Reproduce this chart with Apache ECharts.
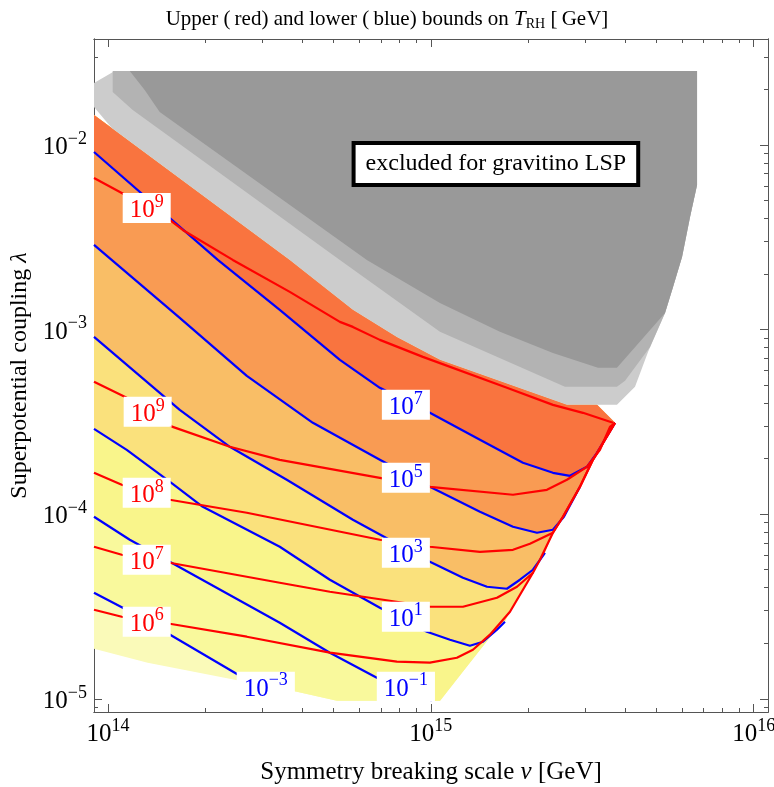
<!DOCTYPE html>
<html>
<head>
<meta charset="utf-8">
<script src="https://cdn.jsdelivr.net/npm/echarts@6.0.0/dist/echarts.min.js"></script>
<style>
  html, body { margin: 0; padding: 0; background: #ffffff; }
  #chart { width: 774px; height: 787px; }
</style>
</head>
<body>
<div id="chart"></div>
<script>
// ---------------------------------------------------------------
// Reheating temperature bounds in the (v, lambda) plane
// ---------------------------------------------------------------
const FONT = '"Liberation Serif", "Times New Roman", Times, serif';

// axis ranges: symmetry breaking scale v [GeV], coupling lambda
const vRange = [9.05e13, 1.107e16];
const lambdaRange = [8.48e-6, 0.0375];

const vMajorTicks = [1e14, 1e15, 1e16];
const vMinorTicks = [2e14, 3e14, 4e14, 5e14, 6e14, 7e14, 8e14, 9e14,
                     2e15, 3e15, 4e15, 5e15, 6e15, 7e15, 8e15, 9e15];
const lambdaMajorTicks = [1e-5, 1e-4, 1e-3, 1e-2];
const lambdaMinorTicks = [9e-6,
                          2e-5, 3e-5, 4e-5, 5e-5, 6e-5, 7e-5, 8e-5, 9e-5,
                          2e-4, 3e-4, 4e-4, 5e-4, 6e-4, 7e-4, 8e-4, 9e-4,
                          2e-3, 3e-3, 4e-3, 5e-3, 6e-3, 7e-3, 8e-3, 9e-3,
                          2e-2, 3e-2];

// allowed region: upper edge (left -> tip), right edge (tip -> bottom), lower edge (right -> left)
const regionTop = [[9.05e13, 1.454e-2], [3.656e14, 2.384e-3], [5.733e14, 1.279e-3], [7.846e14, 9.129e-4],
                   [1.067e15, 6.853e-4], [2.639e15, 3.910e-4], [3.269e15, 3.910e-4], [3.717e15, 3.125e-4]];
const regionRight = [[3.717e15, 3.125e-4], [3.177e15, 1.970e-4], [2.896e15, 1.407e-4], [2.565e15, 9.681e-5],
                     [2.388e15, 7.930e-5], [2.177e15, 5.661e-5], [1.782e15, 3.152e-5], [1.502e15, 2.089e-5],
                     [1.248e15, 1.384e-5], [1.067e15, 9.765e-6]];
const regionBottom = [[1.067e15, 9.765e-6], [5.115e14, 9.765e-6], [3.845e14, 1.093e-5], [2.470e14, 1.269e-5],
                      [1.327e14, 1.569e-5], [9.05e13, 1.867e-5]];

// lower bounds on T_RH (blue contours)
const blueT7 = [[9.05e13, 9.165e-3], [2.188e14, 2.384e-3], [3.404e14, 1.279e-3], [5.226e14, 6.853e-4],
                [6.950e14, 4.835e-4], [9.929e14, 3.540e-4], [1.419e15, 2.528e-4], [1.928e15, 1.898e-4],
                [2.388e15, 1.675e-4], [2.696e15, 1.614e-4], [3.044e15, 1.806e-4], [3.269e15, 2.150e-4],
                [3.717e15, 3.125e-4]];
const blueT5 = [[9.05e13, 2.874e-3], [1.668e14, 1.157e-3], [2.691e14, 5.615e-4], [4.310e14, 3.125e-4],
                [6.950e14, 1.970e-4], [9.929e14, 1.407e-4], [1.419e15, 1.030e-4], [1.796e15, 8.547e-5],
                [2.131e15, 7.930e-5], [2.388e15, 8.233e-5], [2.583e15, 9.681e-5], [2.896e15, 1.407e-4]];
const blueT3 = [[9.05e13, 9.129e-4], [1.668e14, 3.674e-4], [2.384e14, 2.317e-4], [3.578e14, 1.536e-4],
                [5.733e14, 9.326e-5], [9.929e14, 5.522e-5], [1.257e15, 4.525e-5], [1.492e15, 4.045e-5],
                [1.720e15, 3.946e-5], [1.888e15, 4.414e-5], [2.071e15, 5.000e-5], [2.256e15, 6.179e-5]];
const blueT1 = [[9.05e13, 2.899e-4], [1.143e14, 2.232e-4], [1.586e14, 1.461e-4], [1.966e14, 1.096e-4],
                [3.404e14, 6.659e-5], [4.866e14, 4.414e-5], [6.950e14, 3.113e-5], [9.719e14, 2.308e-5],
                [1.146e15, 2.089e-5], [1.321e15, 1.938e-5], [1.450e15, 2.037e-5], [1.602e15, 2.366e-5],
                [1.696e15, 2.615e-5]];
const blueTm1 = [[9.05e13, 9.681e-5], [1.168e14, 7.267e-5], [1.553e14, 5.522e-5], [3.404e14, 2.582e-5],
                 [4.866e14, 1.777e-5], [6.801e14, 1.301e-5], [1.007e15, 9.765e-6]];
const blueTm3 = [[9.05e13, 3.753e-5], [1.111e14, 3.113e-5], [1.520e14, 2.280e-5], [2.470e14, 1.384e-5],
                 [2.788e14, 1.222e-5]];
const blueLevels = [7, 5, 3, 1, -1, -3];
const blueLabelAt = [[8.367e14, 3.910e-4], [8.367e14, 1.574e-4], [8.367e14, 6.179e-5],
                     [8.367e14, 2.782e-5], [8.367e14, 1.163e-5], [3.081e14, 1.163e-5]];

// upper bounds on T_RH (red contours)
const redA = [[9.05e13, 6.627e-3], [1.103e14, 5.497e-3], [1.553e14, 3.925e-3], [1.704e14, 3.465e-3],
              [2.435e14, 2.384e-3], [3.656e14, 1.600e-3], [5.226e14, 1.101e-3], [5.733e14, 1.034e-3],
              [6.950e14, 8.794e-4], [9.445e14, 7.114e-4], [1.720e15, 4.835e-4], [2.388e15, 3.910e-4],
              [2.958e15, 3.540e-4], [3.664e15, 3.125e-4]];
const redB = [[9.05e13, 5.211e-4], [1.143e14, 4.268e-4], [1.586e14, 2.972e-4], [2.384e14, 2.317e-4],
              [3.404e14, 1.970e-4], [6.950e14, 1.574e-4], [9.929e14, 1.407e-4], [1.796e15, 1.274e-4],
              [2.288e15, 1.355e-4], [2.639e15, 1.536e-4], [3.044e15, 1.806e-4], [3.340e15, 2.232e-4],
              [3.587e15, 2.972e-4], [3.717e15, 3.125e-4]];
const red8 = [[9.05e13, 1.675e-4], [1.103e14, 1.443e-4], [1.553e14, 1.197e-4], [2.691e14, 1.018e-4],
              [6.950e14, 7.267e-5], [9.929e14, 6.659e-5], [1.419e15, 6.256e-5], [1.796e15, 6.414e-5],
              [2.027e15, 6.913e-5], [2.388e15, 7.930e-5], [2.565e15, 9.681e-5], [2.896e15, 1.407e-4],
              [3.177e15, 1.970e-4], [3.717e15, 3.125e-4]];
const red7 = [[9.05e13, 6.659e-5], [1.103e14, 6.027e-5], [1.553e14, 5.454e-5], [3.404e14, 4.252e-5],
              [4.866e14, 3.800e-5], [9.929e14, 3.152e-5], [1.257e15, 3.152e-5], [1.602e15, 3.527e-5],
              [1.848e15, 4.045e-5], [2.071e15, 4.817e-5], [2.177e15, 5.661e-5], [2.388e15, 7.930e-5],
              [2.565e15, 9.681e-5], [2.896e15, 1.407e-4], [3.177e15, 1.970e-4], [3.717e15, 3.125e-4]];
const red6 = [[9.05e13, 3.037e-5], [1.103e14, 2.782e-5], [1.553e14, 2.550e-5], [2.691e14, 2.169e-5],
              [4.866e14, 1.777e-5], [7.846e14, 1.588e-5], [9.929e14, 1.569e-5], [1.204e15, 1.669e-5],
              [1.350e15, 1.844e-5], [1.524e15, 2.224e-5], [1.758e15, 2.962e-5], [2.071e15, 4.817e-5]];
const redLevels = [9, 9, 8, 7, 6];
const redLabelAt = [[1.318e14, 4.559e-3], [1.327e14, 3.585e-4], [1.318e14, 1.305e-4],
                    [1.318e14, 5.661e-5], [1.318e14, 2.615e-5]];

// excluded region for a gravitino LSP (three shades)
const grayLight = [[9.05e13, 2.166e-2], [1.049e14, 2.515e-2], [6.674e15, 2.515e-2], [6.674e15, 6.073e-3],
                   [6.348e15, 4.074e-3], [5.996e15, 2.475e-3], [5.623e15, 1.703e-3], [5.311e15, 1.231e-3],
                   [4.705e15, 7.571e-4], [4.288e15, 4.895e-4], [3.770e15, 3.910e-4], [2.639e15, 3.910e-4],
                   [1.067e15, 6.853e-4], [7.846e14, 9.129e-4], [5.733e14, 1.279e-3], [3.656e14, 2.384e-3],
                   [1.027e14, 1.236e-2], [9.05e13, 1.606e-2]];
const grayMid = [[1.034e14, 2.515e-2], [6.674e15, 2.515e-2], [6.674e15, 6.073e-3], [6.348e15, 4.074e-3],
                 [5.996e15, 2.475e-3], [5.623e15, 1.703e-3], [5.311e15, 1.231e-3], [4.772e15, 8.058e-4],
                 [3.994e15, 5.276e-4], [3.770e15, 4.895e-4], [2.602e15, 4.895e-4], [1.067e15, 9.718e-4],
                 [5.226e14, 2.384e-3], [1.193e14, 1.547e-2], [1.034e14, 1.936e-2]];
const grayDark = [[1.168e14, 2.515e-2], [6.674e15, 2.515e-2], [6.674e15, 6.073e-3], [6.348e15, 4.074e-3],
                  [5.996e15, 2.475e-3], [5.623e15, 1.703e-3], [5.311e15, 1.231e-3], [3.770e15, 6.203e-4],
                  [3.292e15, 6.203e-4], [2.388e15, 7.477e-4], [1.636e15, 9.718e-4], [1.067e15, 1.395e-3],
                  [6.335e14, 2.384e-3], [1.446e14, 1.509e-2], [1.299e14, 1.985e-2]];
const excludedText = 'excluded for gravitino LSP';
const excludedAt = [1.590e15, 7.887e-3];

// ---------------------------------------------------------------
const bandColors = ['#FAFAB9', '#F9F99C', '#F9F58B', '#FAE17C', '#F9BE66', '#F99B53', '#F9743F'];
const grayColors = ['#CCCCCC', '#B3B3B3', '#999999'];
const BLUE = '#0000FF', RED = '#FF0000', FRAME = '#555555';

const blueLines = [blueTm3, blueTm1, blueT1, blueT3, blueT5, blueT7]; // bottom to top
const blueByLevel = [blueT7, blueT5, blueT3, blueT1, blueTm1, blueTm3];
const redLines = [redA, redB, red8, red7, red6];

// boundary walked from the lower-left corner, along the bottom, up to the tip
const hull = regionBottom.slice().reverse().concat(regionRight.slice().reverse().slice(1));
const topBack = regionTop.slice().reverse();

const lg = p => [Math.log10(p[0]), Math.log10(p[1])];
function segDist(p, a, b) {
  const dx = b[0] - a[0], dy = b[1] - a[1];
  const t = Math.max(0, Math.min(1, ((p[0] - a[0]) * dx + (p[1] - a[1]) * dy) / (dx * dx + dy * dy || 1)));
  const x = a[0] + t * dx - p[0], y = a[1] + t * dy - p[1];
  return Math.hypot(x * 3, y);
}
// boundary vertices following the point where a contour leaves the region
function hullTail(end) {
  let best = 0, bd = Infinity;
  const e = lg(end);
  for (let i = 0; i < hull.length - 1; i++) {
    const d = segDist(e, lg(hull[i]), lg(hull[i + 1]));
    if (d < bd) { bd = d; best = i; }
  }
  return hull.slice(best + 1);
}

const bands = [{ pts: hull.concat(topBack), color: bandColors[0] }];
blueLines.forEach((line, i) => {
  bands.push({ pts: line.concat(hullTail(line[line.length - 1]), topBack), color: bandColors[i + 1] });
});
const grays = [grayLight, grayMid, grayDark].map((pts, i) => ({ pts, color: grayColors[i] }));

function polygonSeries(polys, z) {
  return {
    type: 'custom', z, silent: true, clip: true, animation: false,
    data: polys.map((p, i) => [p.pts[0][0], p.pts[0][1], i]),
    encode: { x: 0, y: 1 },
    renderItem(params, api) {
      const p = polys[api.value(2)];
      return {
        type: 'polygon',
        shape: { points: p.pts.map(q => api.coord(q)) },
        style: { fill: p.color }
      };
    }
  };
}

function lineSeries(pts, color, z) {
  return {
    type: 'line', data: pts, z, silent: true, animation: false,
    showSymbol: false, symbol: 'none', smooth: false,
    lineStyle: { color, width: 2.2, join: 'round' }
  };
}

const supText = e => (e < 0 ? '\u2212' + (-e) : String(e));
const powRich = (color, size, supSize) => ({
  b: { fontFamily: FONT, fontSize: size, color, lineHeight: size + 5, verticalAlign: 'bottom' },
  s: { fontFamily: FONT, fontSize: supSize, color, lineHeight: supSize - 3, verticalAlign: 'top' }
});

function levelLabels(points, levels, color) {
  return {
    type: 'scatter', z: 8, silent: true, animation: false,
    symbolSize: 0,
    itemStyle: { opacity: 1 },
    data: points.map(p => p),
    label: {
      show: true, position: 'inside', opacity: 1,
      formatter: prm => '{b|10}{s|' + supText(levels[prm.dataIndex]) + '}',
      backgroundColor: '#ffffff', padding: [0, 7, 0, 7],
      rich: powRich(color, 25, 18)
    }
  };
}

const tickLabel = v => '{b|10}{s|' + supText(Math.round(Math.log10(v))) + '}';

function axisBase(range, pos, ticks, len) {
  return {
    type: 'log', logBase: 10, position: pos, min: range[0], max: range[1],
    axisLine: { show: true, onZero: false, lineStyle: { color: FRAME, width: 1 } },
    axisTick: { show: true, inside: true, length: len, customValues: ticks, lineStyle: { color: FRAME, width: 1 } },
    axisLabel: { show: false },
    splitLine: { show: false }, minorTick: { show: false }, minorSplitLine: { show: false }
  };
}

const xMain = axisBase(vRange, 'bottom', vMajorTicks, 8);
xMain.axisLabel = { show: true, customValues: vMajorTicks, formatter: tickLabel, margin: 5, rich: powRich('#000', 25, 18) };
xMain.name = 'Symmetry breaking scale {i|v} [GeV]';
xMain.nameLocation = 'middle';
xMain.nameGap = 48;
xMain.nameTextStyle = { fontFamily: FONT, fontSize: 25, color: '#000',
  rich: { i: { fontFamily: FONT, fontSize: 25, fontStyle: 'italic', color: '#000' } } };

const yMain = axisBase(lambdaRange, 'left', lambdaMajorTicks, 8);
yMain.axisLabel = { show: true, customValues: lambdaMajorTicks, formatter: tickLabel, margin: 7, rich: powRich('#000', 25, 18) };
yMain.name = 'Superpotential coupling {i|\u03bb}';
yMain.nameLocation = 'middle';
yMain.nameGap = 60;
yMain.nameTextStyle = { fontFamily: FONT, fontSize: 24, color: '#000',
  rich: { i: { fontFamily: FONT, fontSize: 24, fontStyle: 'italic', color: '#000' } } };

const option = {
  animation: false,
  backgroundColor: '#ffffff',
  title: {
    text: 'Upper (\u2009red) and lower (\u2009blue) bounds on {i|T}{sub|RH} [\u2009GeV]',
    left: 'center', top: 3,
    textStyle: {
      fontFamily: FONT, fontSize: 21, fontWeight: 'normal', color: '#000',
      rich: {
        i: { fontFamily: FONT, fontSize: 21, fontStyle: 'italic', color: '#000' },
        sub: { fontFamily: FONT, fontSize: 14, color: '#000', padding: [9, 0, 0, 0] }
      }
    }
  },
  grid: { left: 94, right: 6, top: 39, bottom: 75, containLabel: false, outerBoundsMode: 'none' },
  xAxis: [
    xMain,
    axisBase(vRange, 'bottom', vMinorTicks, 4),
    axisBase(vRange, 'top', vMajorTicks, 8),
    axisBase(vRange, 'top', vMinorTicks, 4)
  ],
  yAxis: [
    yMain,
    axisBase(lambdaRange, 'left', lambdaMinorTicks, 4),
    axisBase(lambdaRange, 'right', lambdaMajorTicks, 8),
    axisBase(lambdaRange, 'right', lambdaMinorTicks, 4)
  ],
  series: [
    polygonSeries(bands, 1),
    polygonSeries(grays, 2),
    ...blueByLevel.map(l => lineSeries(l, BLUE, 3)),
    ...redLines.map(l => lineSeries(l, RED, 4)),
    levelLabels(redLabelAt, redLevels, RED),
    levelLabels(blueLabelAt, blueLevels, BLUE),
    {
      type: 'scatter', z: 9, silent: true, animation: false, symbolSize: 0,
      itemStyle: { opacity: 1 },
      data: [excludedAt],
      label: {
        show: true, position: 'inside', formatter: excludedText, opacity: 1,
        fontFamily: FONT, fontSize: 24, color: '#000', lineHeight: 28,
        backgroundColor: '#ffffff', borderColor: '#000000', borderWidth: 4,
        padding: [5, 10, 5, 10]
      }
    }
  ]
};

const chart = echarts.init(document.getElementById('chart'), null, { renderer: 'canvas' });
chart.setOption(option);
</script>
</body>
</html>
